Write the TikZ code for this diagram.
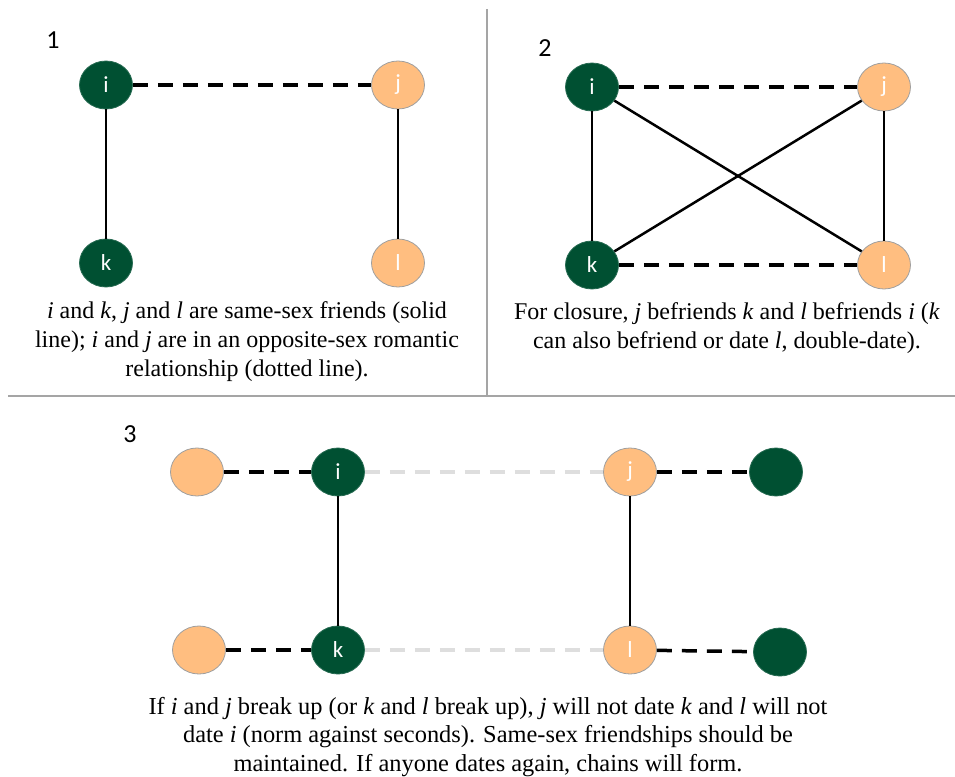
\documentclass[tikz,border=0pt]{standalone}
\usepackage{fontspec}
\setmainfont{Liberation Serif}
\newfontfamily\calfont{Carlito}
\usetikzlibrary{shapes.geometric}
\definecolor{dgreen}{RGB}{0,80,50}
\definecolor{peach}{RGB}{255,190,128}
\definecolor{divider}{RGB}{165,165,165}
\definecolor{faded}{RGB}{222,222,222}
\begin{document}
\begin{tikzpicture}[x=1pt,y=-1pt,
  gnode/.style={ellipse, fill=dgreen, draw=dgreen!85!white, line width=0.8pt,
    minimum width=53pt, minimum height=48pt, inner sep=0pt, text=white,
    font=\calfont\fontsize{23}{23}\selectfont},
  onode/.style={gnode, fill=peach, draw=gray!75},
  friend/.style={line width=2.5pt, black},
  thinfriend/.style={line width=2pt, black},
  datelink/.style={line width=3.5pt, black, dash pattern=on 15pt off 10pt},
  endedlink/.style={datelink, draw=faded},
  captext/.style={align=center, font=\rmfamily\fontsize{24}{29}\selectfont},
  captextb/.style={align=center, font=\rmfamily\fontsize{24.4}{28.5}\selectfont},
  num/.style={font=\calfont\fontsize{26}{26}\selectfont},
  sep/.style={line width=1.5pt, draw=divider}
]
\useasboundingbox (0,0) rectangle (955,776);

% dividers
\coordinate (vtop) at (487,9);
\coordinate (vbot) at (487,397);
\coordinate (hl) at (8,396);
\coordinate (hr) at (955,396);
\draw[sep] (vtop) -- (vbot);
\draw[sep] (hl) -- (hr);

% ---------- panel 1 ----------
\node[num] (n1) at (53,40) {1};
\node[gnode] (a_i) at (106,85) {i};
\node[onode] (a_j) at (398,85) {j};
\node[gnode] (a_k) at (106,263) {k};
\node[onode] (a_l) at (398,263) {l};
\draw[datelink] (a_i) -- (a_j);
\draw[friend] (a_i) -- (a_k);
\draw[friend] (a_j) -- (a_l);
\node[captext] (c1) at (247,342) {\textit{i} and \textit{k}, \textit{j} and \textit{l} are same-sex friends (solid\\line); \textit{i} and \textit{j} are in an opposite-sex romantic\\relationship (dotted line).};

% ---------- panel 2 ----------
\node[num] (n2) at (545,48) {2};
\node[gnode] (b_i) at (592,87) {i};
\node[onode] (b_j) at (884,87) {j};
\node[gnode] (b_k) at (592,265) {k};
\node[onode] (b_l) at (884,265) {l};
\draw[datelink] (b_i) -- (b_j);
\draw[datelink] (b_k) -- (b_l);
\draw[friend] (b_i) -- (b_k);
\draw[friend] (b_j) -- (b_l);
\draw[friend] (b_i) -- (b_l);
\draw[friend] (b_j) -- (b_k);
\node[captext] (c2) at (727,328) {For closure, \textit{j} befriends \textit{k} and \textit{l} befriends \textit{i} (\textit{k}\\can also befriend or date \textit{l}, double-date).};

% ---------- panel 3 ----------
\node[num] (n3) at (130,434) {3};
\node[onode] (c_a) at (197,472) {};
\node[gnode] (c_i) at (338,472) {i};
\node[onode] (c_j) at (630,472) {j};
\node[gnode] (c_b) at (776,472) {};
\node[onode] (c_c) at (199,650) {};
\node[gnode] (c_k) at (338,650) {k};
\node[onode] (c_l) at (630,650) {l};
\node[gnode] (c_d) at (780,652) {};
\draw[datelink] (c_a) -- (c_i);
\draw[datelink] (c_j) -- (c_b);
\draw[datelink] (c_c) -- (c_k);
\draw[datelink] (c_l) -- (c_d);
\draw[endedlink] (c_i) -- (c_j);
\draw[endedlink] (c_k) -- (c_l);
\draw[thinfriend] (c_i) -- (c_k);
\draw[thinfriend] (c_j) -- (c_l);
\node[captextb] (c3) at (488,737) {If \textit{i} and \textit{j} break up (or \textit{k} and \textit{l} break up), \textit{j} will not date \textit{k} and \textit{l} will not\\date \textit{i} (norm against seconds). Same-sex friendships should be\\maintained. If anyone dates again, chains will form.};
\end{tikzpicture}
\end{document}
